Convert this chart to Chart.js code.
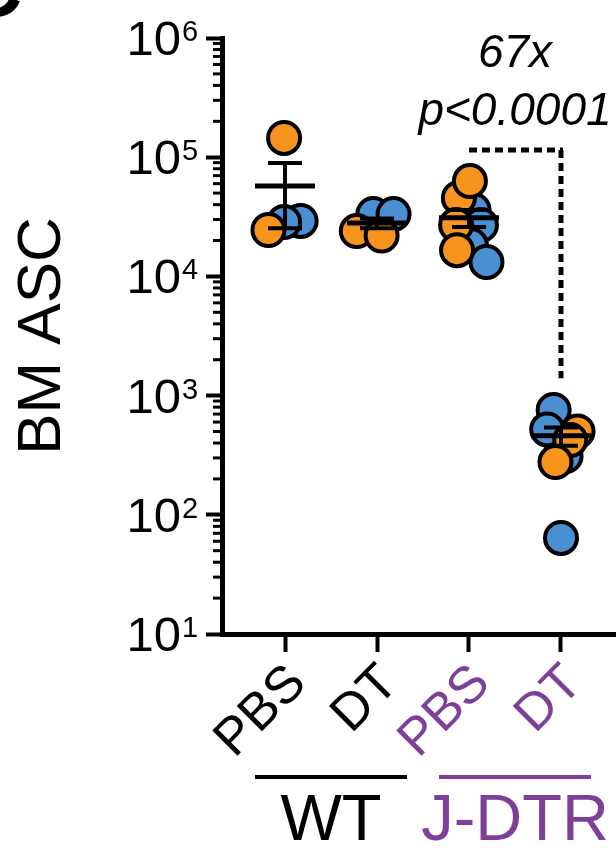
<!DOCTYPE html>
<html>
<head>
<meta charset="utf-8">
<script src="https://cdn.jsdelivr.net/npm/chart.js@4.4.0/dist/chart.umd.min.js"></script>
<style>
  html, body { margin: 0; padding: 0; background: #fff; }
  #wrap { width: 616px; height: 848px; }
</style>
</head>
<body>
<div id="wrap"><canvas id="chart" width="616" height="848"></canvas></div>
<script>
const groupLabels = ['PBS', 'DT', 'PBS', 'DT'];
const strainLabels = ['WT', 'J-DTR'];
const yDecades = [1e1, 1e2, 1e3, 1e4, 1e5, 1e6];

// x = group index + scatter offset, y = ASC per mouse
const orangeX = [-0.01, -0.18, 0.78, 1.05, 1.89, 1.86, 1.87, 2.01, 3.18, 3.10, 2.94];
const orangeY = [145000, 24500, 24000, 22000, 45500, 27000, 16600, 63100, 500, 424, 277];
const blueX = [0.17, -0.01, 0.96, 1.18, 2.05, 2.13, 2.02, 2.19, 2.92, 2.85, 3.05, 3.0];
const blueY = [29200, 28600, 33300, 33300, 36100, 27000, 18300, 13200, 757, 520, 311, 64];

const groupMeans = [57300, 28000, 31000, 460];
const groupSem = [32000, 2600, 5000, 80];

const foldText = '67x';
const pText = 'p<0.0001';
const bracketTop = 115000;
const bracketLow = 1400;

const FONT = "'Liberation Sans', Arial, sans-serif";
const PURPLE = '#7E3F98';
const ORANGE = '#F7941D';
const BLUE = '#4B8FD3';

function toPoints(xs, ys) {
    return xs.map((x, i) => ({ x: x, y: ys[i] }));
}

const meanBars = {
    id: 'meanBars',
    afterDatasetsDraw(chart) {
        const { ctx, scales: { x, y } } = chart;
        ctx.save();
        ctx.strokeStyle = '#000';
        groupMeans.forEach((m, i) => {
            const cx = x.getPixelForValue(i);
            const ym = y.getPixelForValue(m);
            const yt = y.getPixelForValue(m + groupSem[i]);
            const yb = y.getPixelForValue(m - groupSem[i]);
            ctx.lineWidth = 4;
            ctx.beginPath();
            ctx.moveTo(cx, yt); ctx.lineTo(cx, yb);
            ctx.moveTo(cx - 17, yt); ctx.lineTo(cx + 17, yt);
            ctx.moveTo(cx - 17, yb); ctx.lineTo(cx + 17, yb);
            ctx.stroke();
            ctx.lineWidth = 5;
            ctx.beginPath();
            ctx.moveTo(cx - 30, ym); ctx.lineTo(cx + 30, ym);
            ctx.stroke();
        });
        ctx.restore();
    }
};

const extras = {
    id: 'extras',
    afterDraw(chart) {
        const { ctx, scales: { x, y } } = chart;
        ctx.save();

        // minor ticks on the log axis
        ctx.strokeStyle = '#000';
        ctx.lineWidth = 3;
        y.ticks.forEach(t => {
            if (yDecades.includes(t.value)) return;
            const py = y.getPixelForValue(t.value);
            ctx.beginPath();
            ctx.moveTo(213, py); ctx.lineTo(222, py);
            ctx.stroke();
        });

        // 10^n labels
        ctx.fillStyle = '#000';
        ctx.textBaseline = 'alphabetic';
        yDecades.forEach(d => {
            const py = y.getPixelForValue(d);
            const exp = String(Math.round(Math.log10(d)));
            ctx.font = '29px ' + FONT;
            ctx.textAlign = 'left';
            ctx.fillText(exp, 182, py + 3);
            ctx.font = '49px ' + FONT;
            ctx.textAlign = 'right';
            ctx.fillText('10', 181, py + 17);
        });

        // strain underlines and labels
        const strainColors = ['#000', PURPLE];
        strainLabels.forEach((s, k) => {
            const cx = (x.getPixelForValue(2 * k) + x.getPixelForValue(2 * k + 1)) / 2;
            ctx.strokeStyle = strainColors[k];
            ctx.lineWidth = 4;
            ctx.beginPath();
            ctx.moveTo(cx - 76, 777); ctx.lineTo(cx + 76, 777);
            ctx.stroke();
            ctx.fillStyle = strainColors[k];
            ctx.font = '65px ' + FONT;
            ctx.textAlign = 'center';
            ctx.fillText(s, cx, 840);
        });

        // significance bracket
        const x2 = x.getPixelForValue(2), x3 = x.getPixelForValue(3);
        const yb = y.getPixelForValue(bracketTop), yl = y.getPixelForValue(bracketLow);
        ctx.strokeStyle = '#000';
        ctx.lineWidth = 5;
        ctx.setLineDash([8, 5]);
        ctx.beginPath();
        ctx.moveTo(x2, yb); ctx.lineTo(x3 + 2, yb);
        ctx.moveTo(x3, yb); ctx.lineTo(x3, yl);
        ctx.stroke();
        ctx.setLineDash([]);
        ctx.fillStyle = '#000';
        ctx.font = 'italic 46px ' + FONT;
        ctx.textAlign = 'center';
        ctx.fillText(foldText, (x2 + x3) / 2, yb - 83);
        ctx.fillText(pText, (x2 + x3) / 2, yb - 25);

        // cropped panel letter
        ctx.font = 'bold 80px ' + FONT;
        ctx.textAlign = 'right';
        ctx.fillText('C', 22, 16);

        ctx.restore();
    }
};

const ctx = document.getElementById('chart').getContext('2d');
const chart = new Chart(ctx, {
    type: 'scatter',
    data: {
        datasets: [{
            label: 'orange',
            data: toPoints(orangeX, orangeY),
            backgroundColor: ORANGE,
            borderColor: '#000',
            borderWidth: 4,
            pointRadius: 16,
            pointHoverRadius: 16
        }, {
            label: 'blue',
            data: toPoints(blueX, blueY),
            backgroundColor: BLUE,
            borderColor: '#000',
            borderWidth: 4,
            pointRadius: 16,
            pointHoverRadius: 16
        }]
    },
    options: {
        responsive: false,
        animation: false,
        devicePixelRatio: 1,
        layout: { autoPadding: false, padding: { top: 38, left: 0, right: 0, bottom: 0 } },
        plugins: { legend: { display: false }, tooltip: { enabled: false } },
        scales: {
            x: {
                type: 'linear',
                min: -0.685,
                max: 3.598,
                afterBuildTicks: s => { s.ticks = groupLabels.map((_, i) => ({ value: i })); },
                ticks: {
                    autoSkip: false,
                    minRotation: 45,
                    maxRotation: 45,
                    padding: 1,
                    labelOffset: 13,
                    font: { family: FONT, size: 52 },
                    color: c => c.index < 2 ? '#000' : PURPLE,
                    callback: (v, i) => groupLabels[i]
                },
                grid: { drawOnChartArea: false, drawTicks: true, tickLength: 18, tickWidth: 4, tickColor: '#000' },
                border: { display: true, color: '#000', width: 5 },
                afterFit: s => { s.height = 214; s.paddingLeft = 0; s.paddingRight = 0; }
            },
            y: {
                type: 'logarithmic',
                min: 10,
                max: 1e6,
                afterBuildTicks: s => {
                    const t = [];
                    yDecades.forEach(d => {
                        t.push({ value: d });
                        if (d < 1e6) for (let m = 2; m <= 9; m++) t.push({ value: m * d });
                    });
                    s.ticks = t;
                },
                ticks: { display: false, autoSkip: false },
                grid: {
                    drawOnChartArea: false,
                    drawTicks: true,
                    tickLength: 16,
                    tickWidth: 4,
                    tickColor: c => yDecades.includes(c.tick.value) ? '#000' : 'rgba(0,0,0,0)'
                },
                border: { display: true, color: '#000', width: 5 },
                title: {
                    display: true,
                    text: 'BM ASC',
                    color: '#000',
                    font: { family: FONT, size: 62 },
                    padding: { top: 6, bottom: 0 }
                },
                afterFit: s => { s.width = 222; s.paddingTop = 0; s.paddingBottom = 0; }
            }
        }
    },
    plugins: [meanBars, extras]
});
</script>
</body>
</html>
